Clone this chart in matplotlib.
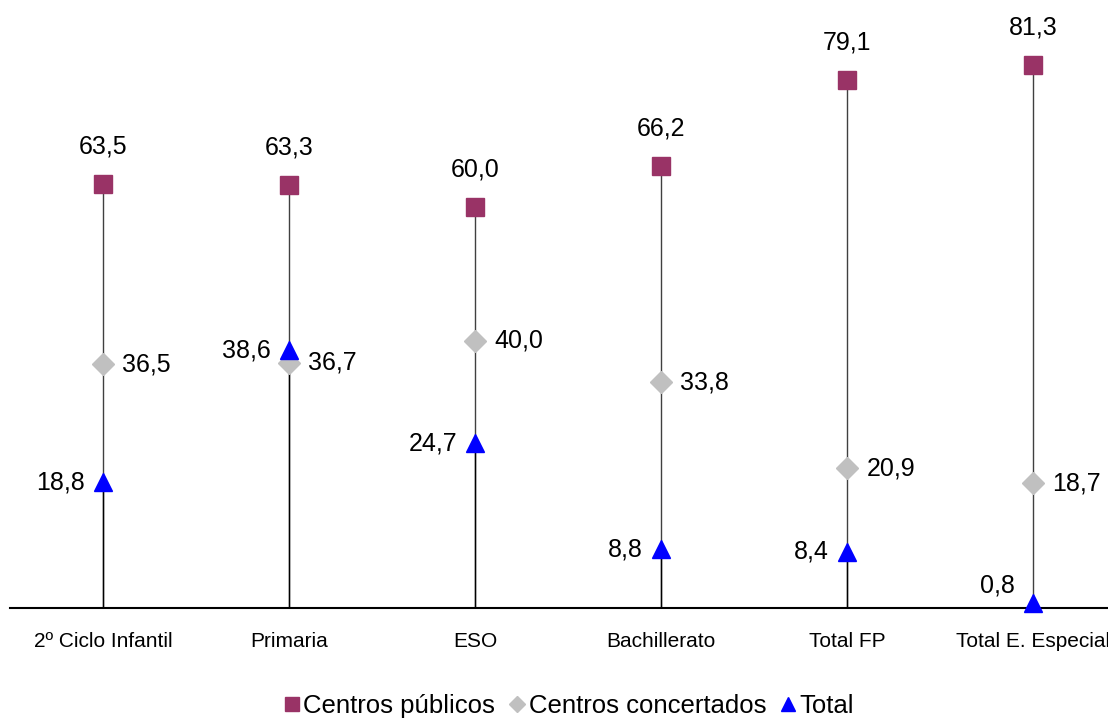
import matplotlib
matplotlib.use('Agg')
import matplotlib.pyplot as plt

plt.rcParams['font.family'] = ['Liberation Sans', 'DejaVu Sans']

categories = ['2º Ciclo Infantil', 'Primaria', 'ESO', 'Bachillerato', 'Total FP', 'Total E. Especial']
publicos = [63.5, 63.3, 60.0, 66.2, 79.1, 81.3]
concertados = [36.5, 36.7, 40.0, 33.8, 20.9, 18.7]
total = [18.8, 38.6, 24.7, 8.8, 8.4, 0.8]

col_pub = '#993366'
col_con = '#C0C0C0'
col_tot = '#0000FF'

def fmt(v):
	return '{:.1f}'.format(v).replace('.', ',')

fig = plt.figure(figsize = (11.08, 7.18), dpi = 100)
ax = fig.add_axes([10 / 1108, 110 / 718, 1116 / 1108, 601.2 / 718])

x = list(range(len(categories)))

# high-low lines and drop lines
for i in x:
	top = max(publicos[i], concertados[i], total[i])
	ax.plot([i, i], [0, top], color = '#404040', linewidth = 1.0, zorder = 1)
	ax.plot([i, i], [0, total[i]], color = 'black', linewidth = 1.0, zorder = 1)

ax.plot(x, publicos, linestyle = 'none', marker = 's', markersize = 12.7, color = col_pub, label = 'Centros públicos', zorder = 3, clip_on = False)
ax.plot(x, concertados, linestyle = 'none', marker = 'D', markersize = 11.0, color = col_con, label = 'Centros concertados', zorder = 3, clip_on = False)
ax.plot(x, total, linestyle = 'none', marker = '^', markersize = 12.7, color = col_tot, label = 'Total', zorder = 4, clip_on = False)

# data labels
for i in x:
	ax.annotate(fmt(publicos[i]), (i, publicos[i]), xytext = (0, 27), textcoords = 'offset points', ha = 'center', va = 'center', fontsize = 18)
	ax.annotate(fmt(concertados[i]), (i, concertados[i]), xytext = (14, 0), textcoords = 'offset points', ha = 'left', va = 'center', fontsize = 18)
	lift = 12 if total[i] < 2 else 0
	ax.annotate(fmt(total[i]), (i, total[i]), xytext = (-13, lift), textcoords = 'offset points', ha = 'right', va = 'center', fontsize = 18)

ax.set_xlim(-0.5, 5.5)
ax.set_ylim(0, 90)
ax.set_xticks(x)
ax.set_xticklabels(categories, fontsize = 15)
ax.tick_params(axis = 'x', length = 0, pad = 17)
ax.set_yticks([])
for side in ['top', 'right', 'left']:
	ax.spines[side].set_visible(False)
ax.spines['bottom'].set_linewidth(1.5)
ax.patch.set_visible(False)

fig.legend(loc = 'center', bbox_to_anchor = (0.513, 0.017), ncol = 3, frameon = False, fontsize = 18.5, markerscale = 0.75, handlelength = 0.7, handletextpad = 0.1, columnspacing = 0.5, borderaxespad = 0)

fig.savefig('out.png', dpi = 100)
